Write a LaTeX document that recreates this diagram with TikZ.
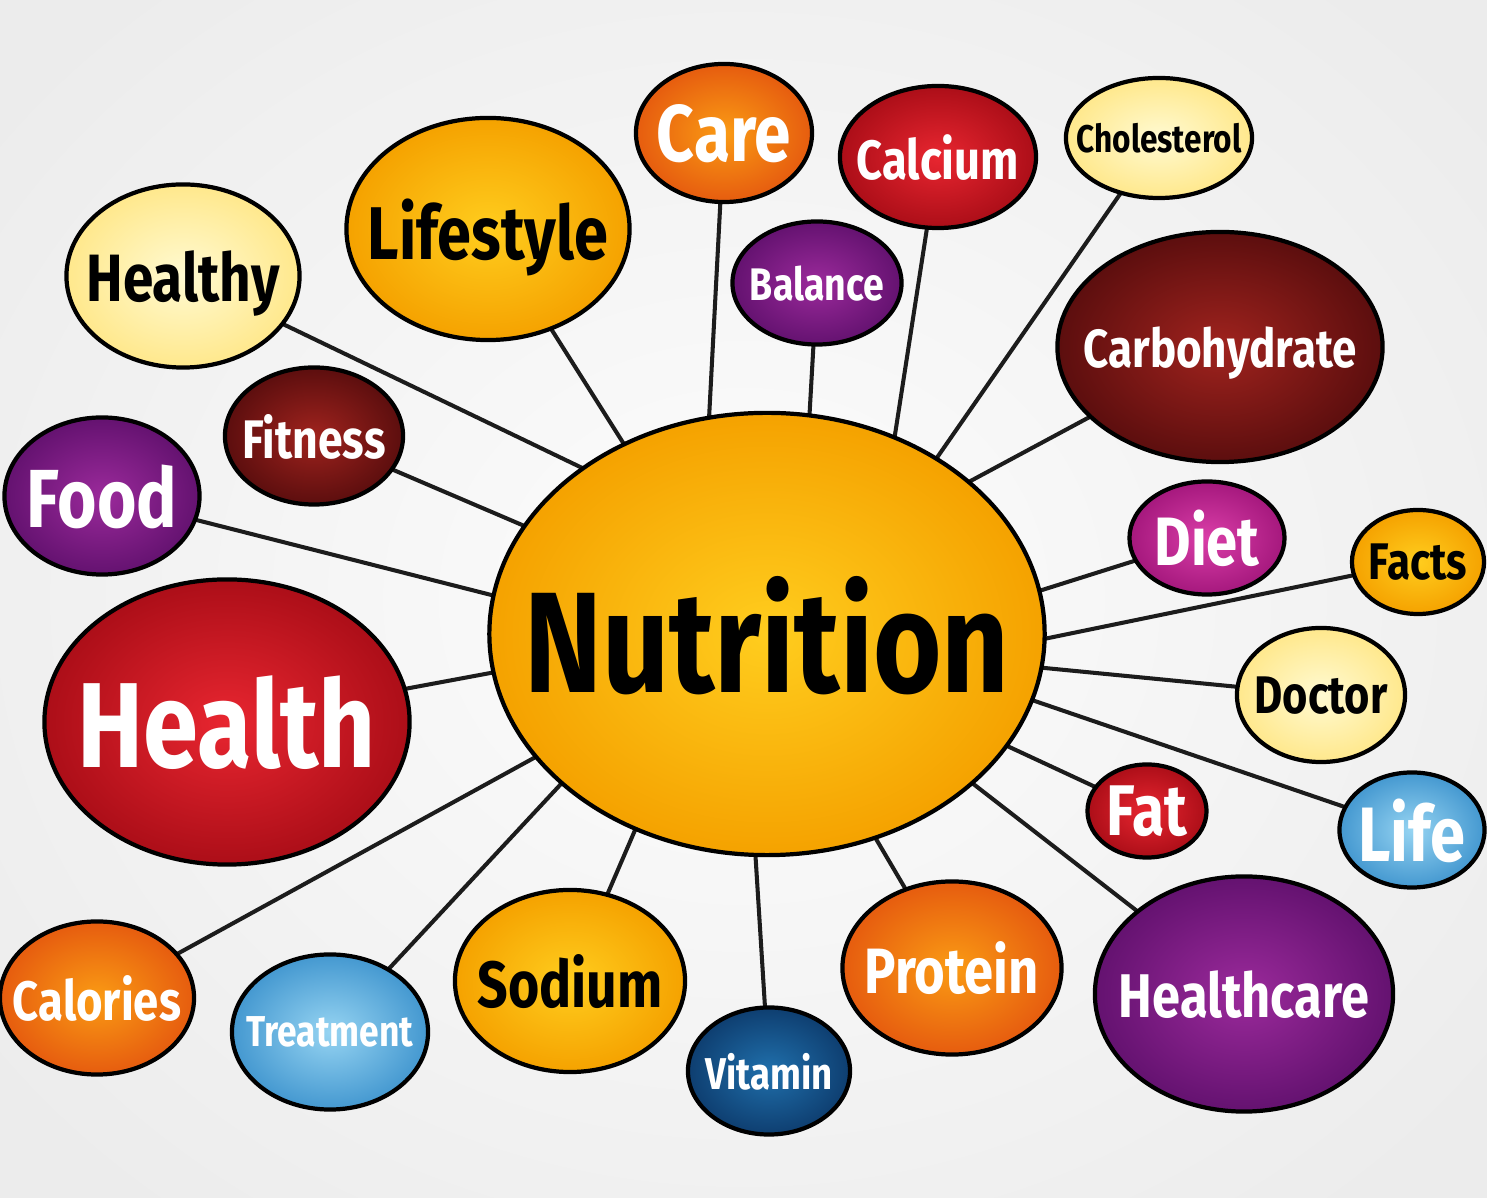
\documentclass[tikz,border=0pt]{standalone}
\usepackage{graphicx}
\usepackage{fontspec}
\setmainfont{Fira Sans}
\usetikzlibrary{shapes.geometric}
\pgfdeclarelayer{bg}
\pgfsetlayers{bg,main}
\definecolor{lyIn}{RGB}{255,250,210}
\definecolor{lyOut}{RGB}{255,232,140}
\definecolor{goIn}{RGB}{255,205,30}
\definecolor{goOut}{RGB}{245,162,0}
\definecolor{orIn}{RGB}{250,155,20}
\definecolor{orOut}{RGB}{230,92,15}
\definecolor{rdIn}{RGB}{232,38,48}
\definecolor{rdOut}{RGB}{172,14,24}
\definecolor{mrIn}{RGB}{160,35,30}
\definecolor{mrOut}{RGB}{92,14,14}
\definecolor{puIn}{RGB}{155,42,155}
\definecolor{puOut}{RGB}{100,18,112}
\definecolor{mgIn}{RGB}{218,62,168}
\definecolor{mgOut}{RGB}{165,24,125}
\definecolor{lbIn}{RGB}{150,212,242}
\definecolor{lbOut}{RGB}{68,152,208}
\definecolor{dbIn}{RGB}{32,112,172}
\definecolor{dbOut}{RGB}{14,62,112}
\definecolor{linkc}{RGB}{28,28,28}
\definecolor{bgIn}{RGB}{253,253,253}
\definecolor{bgOut}{RGB}{236,236,236}
\newcommand{\lbl}[2]{\makebox[0pt]{\smash{\raisebox{-0.5\height}{\resizebox{#1}{!}{\scalebox{0.82}[1]{\bfseries #2}}}}}}
\tikzset{
  bub/.style={ellipse, draw=black, line width=1.2pt, inner sep=0pt, outer sep=0pt},
  lyel/.style={inner color=lyIn, outer color=lyOut, text=black},
  gold/.style={inner color=goIn, outer color=goOut, text=black},
  orng/.style={inner color=orIn, outer color=orOut, text=white},
  redc/.style={inner color=rdIn, outer color=rdOut, text=white},
  maro/.style={inner color=mrIn, outer color=mrOut, text=white},
  purp/.style={inner color=puIn, outer color=puOut, text=white},
  mage/.style={inner color=mgIn, outer color=mgOut, text=white},
  lblu/.style={inner color=lbIn, outer color=lbOut, text=white},
  dblu/.style={inner color=dbIn, outer color=dbOut, text=white},
  link/.style={draw=linkc, line width=1.15pt},
}
\begin{document}
\begin{tikzpicture}[x=0.01cm,y=-0.01cm]
\useasboundingbox (0,0) rectangle (1487,1198);
% nodes
\node[bub,gold,minimum width=5.55cm,minimum height=4.42cm] (nut) at (767,634) {\lbl{4.85cm}{Nutrition}};
\node[bub,orng,minimum width=1.76cm,minimum height=1.38cm] (care) at (724,133) {\lbl{1.34cm}{Care}};
\node[bub,redc,minimum width=1.96cm,minimum height=1.42cm] (calcium) at (938,157) {\lbl{1.62cm}{Calcium}};
\node[bub,lyel,minimum width=1.86cm,minimum height=1.20cm] (chol) at (1159,138) {\lbl{1.65cm}{Cholesterol}};
\node[bub,gold,minimum width=2.83cm,minimum height=2.22cm] (lifestyle) at (488,229) {\lbl{2.40cm}{Lifestyle}};
\node[bub,lyel,minimum width=2.33cm,minimum height=1.83cm] (healthy) at (183,276) {\lbl{1.93cm}{Healthy}};
\node[bub,purp,minimum width=1.69cm,minimum height=1.23cm] (balance) at (817,283) {\lbl{1.34cm}{Balance}};
\node[bub,maro,minimum width=3.25cm,minimum height=2.30cm] (carb) at (1220,347) {\lbl{2.73cm}{Carbohydrate}};
\node[bub,maro,minimum width=1.78cm,minimum height=1.37cm] (fitness) at (314,436) {\lbl{1.43cm}{Fitness}};
\node[bub,purp,minimum width=1.95cm,minimum height=1.57cm] (food) at (102,496) {\lbl{1.50cm}{Food}};
\node[bub,mage,minimum width=1.55cm,minimum height=1.13cm] (diet) at (1207,538) {\lbl{1.05cm}{Diet}};
\node[bub,gold,minimum width=1.32cm,minimum height=1.04cm] (facts) at (1418,562) {\lbl{0.98cm}{Facts}};
\node[bub,redc,minimum width=3.65cm,minimum height=2.85cm] (health) at (227,722) {\lbl{2.98cm}{Health}};
\node[bub,lyel,minimum width=1.68cm,minimum height=1.34cm] (doctor) at (1321,695) {\lbl{1.33cm}{Doctor}};
\node[bub,redc,minimum width=1.19cm,minimum height=0.93cm] (fat) at (1147,811) {\lbl{0.80cm}{Fat}};
\node[bub,lblu,minimum width=1.45cm,minimum height=1.15cm] (life) at (1412,830) {\lbl{1.07cm}{Life}};
\node[bub,orng,minimum width=1.94cm,minimum height=1.53cm] (calories) at (97,998) {\lbl{1.68cm}{Calories}};
\node[bub,lblu,minimum width=1.96cm,minimum height=1.55cm] (treatment) at (330,1032) {\lbl{1.67cm}{Treatment}};
\node[bub,gold,minimum width=2.30cm,minimum height=1.82cm] (sodium) at (570,981) {\lbl{1.85cm}{Sodium}};
\node[bub,dblu,minimum width=1.62cm,minimum height=1.27cm] (vitamin) at (769,1071) {\lbl{1.27cm}{Vitamin}};
\node[bub,orng,minimum width=2.19cm,minimum height=1.73cm] (protein) at (952,968) {\lbl{1.74cm}{Protein}};
\node[bub,purp,minimum width=2.98cm,minimum height=2.35cm] (healthcare) at (1244,994) {\lbl{2.50cm}{Healthcare}};
% background and connectors
\begin{pgfonlayer}{bg}
\shade[inner color=bgIn, outer color=bgOut] (-200,-200) rectangle (1687,1398);
\draw[link] (care) -- (nut.105);
\draw[link] (balance) -- (nut.79);
\draw[link] (calcium) -- (nut.57);
\draw[link] (chol) -- (nut.46);
\draw[link] (carb) -- (nut.37);
\draw[link] (diet) -- (nut.9);
\draw[link] (facts) -- (nut.-1);
\draw[link] (doctor) -- (nut.-7);
\draw[link] (life) -- (nut.-14);
\draw[link] (fat) -- (nut.-25);
\draw[link] (healthcare) -- (nut.-36);
\draw[link] (protein) -- (nut.-62);
\draw[link] (vitamin) -- (nut.-93);
\draw[link] (sodium) -- (nut.-124);
\draw[link] (treatment) -- (nut.-144);
\draw[link] (calories) -- (nut.-152);
\draw[link] (health) -- (nut.-172);
\draw[link] (food) -- (nut.172);
\draw[link] (fitness) -- (nut.156);
\draw[link] (healthy) -- (nut.138);
\draw[link] (lifestyle) -- (nut.127);
\end{pgfonlayer}
\end{tikzpicture}
\end{document}
